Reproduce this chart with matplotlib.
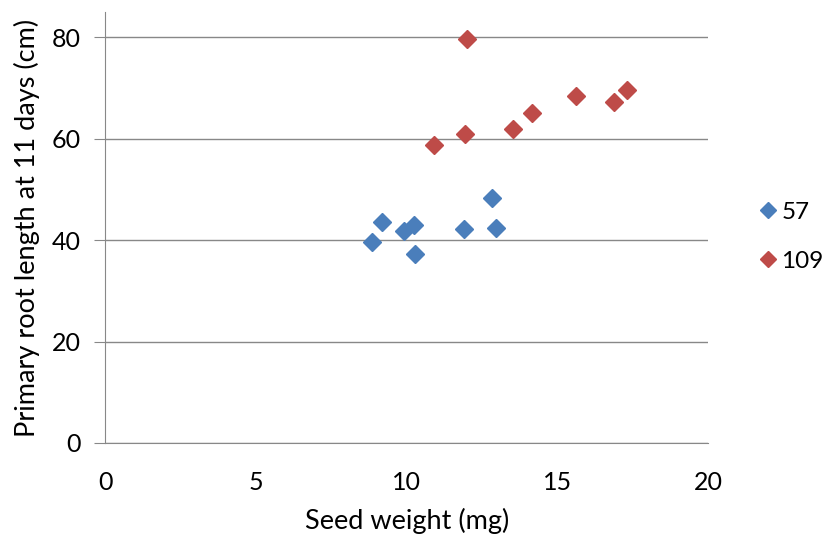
import matplotlib
matplotlib.use("Agg")
import matplotlib.pyplot as plt

plt.rcParams['font.family'] = ['Lato', 'DejaVu Sans']

series_names = ["57", "109"]
x_57 = [8.86, 9.17, 9.91, 10.24, 10.27, 11.91, 12.82, 12.95]
y_57 = [39.6, 43.5, 41.8, 42.9, 37.2, 42.2, 48.4, 42.4]
x_109 = [11.99, 10.90, 11.94, 13.54, 14.16, 15.63, 16.88, 17.30]
y_109 = [79.7, 58.8, 60.9, 61.9, 65.1, 68.4, 67.3, 69.6]
colors = ["#4A7EBB", "#BE4B48"]
x_ticks = [0, 5, 10, 15, 20]
y_ticks = [0, 20, 40, 60, 80]

fig = plt.figure(figsize=(8.29, 5.41), dpi=100)
ax = fig.add_axes([105.5/829, 1-443/541, (708-105.5)/829, (443-12)/541])

ax.plot(x_57, y_57, ls='none', marker='D', markersize=9, color=colors[0],
        markeredgecolor=colors[0], label=series_names[0], zorder=3)
ax.plot(x_109, y_109, ls='none', marker='D', markersize=9, color=colors[1],
        markeredgecolor=colors[1], label=series_names[1], zorder=3)

ax.set_xlim(0, 20)
ax.set_ylim(0, 85)
ax.set_xticks(x_ticks)
ax.set_yticks(y_ticks)
ax.yaxis.grid(True, color='#888888', linewidth=1.0)
ax.set_axisbelow(True)
for s in ['top', 'right']:
    ax.spines[s].set_visible(False)
ax.spines['left'].set_color('#888888')
ax.spines['bottom'].set_color('#888888')
ax.tick_params(axis='y', length=8, color='#888888', labelsize=18, pad=10)
ax.tick_params(axis='x', length=0, labelsize=18, pad=20)

ax.set_xlabel("Seed weight (mg)", fontsize=19.5, labelpad=10)
ax.set_ylabel("Primary root length at 11 days (cm)", fontsize=19.5, labelpad=8)

leg = fig.legend(loc='upper left', bbox_to_anchor=(740/829, 1-180/541), frameon=False,
                 fontsize=17.5, handlelength=0.5, handletextpad=0.3, labelspacing=1.15,
                 markerscale=0.85)

fig.savefig("out.png", dpi=100)
